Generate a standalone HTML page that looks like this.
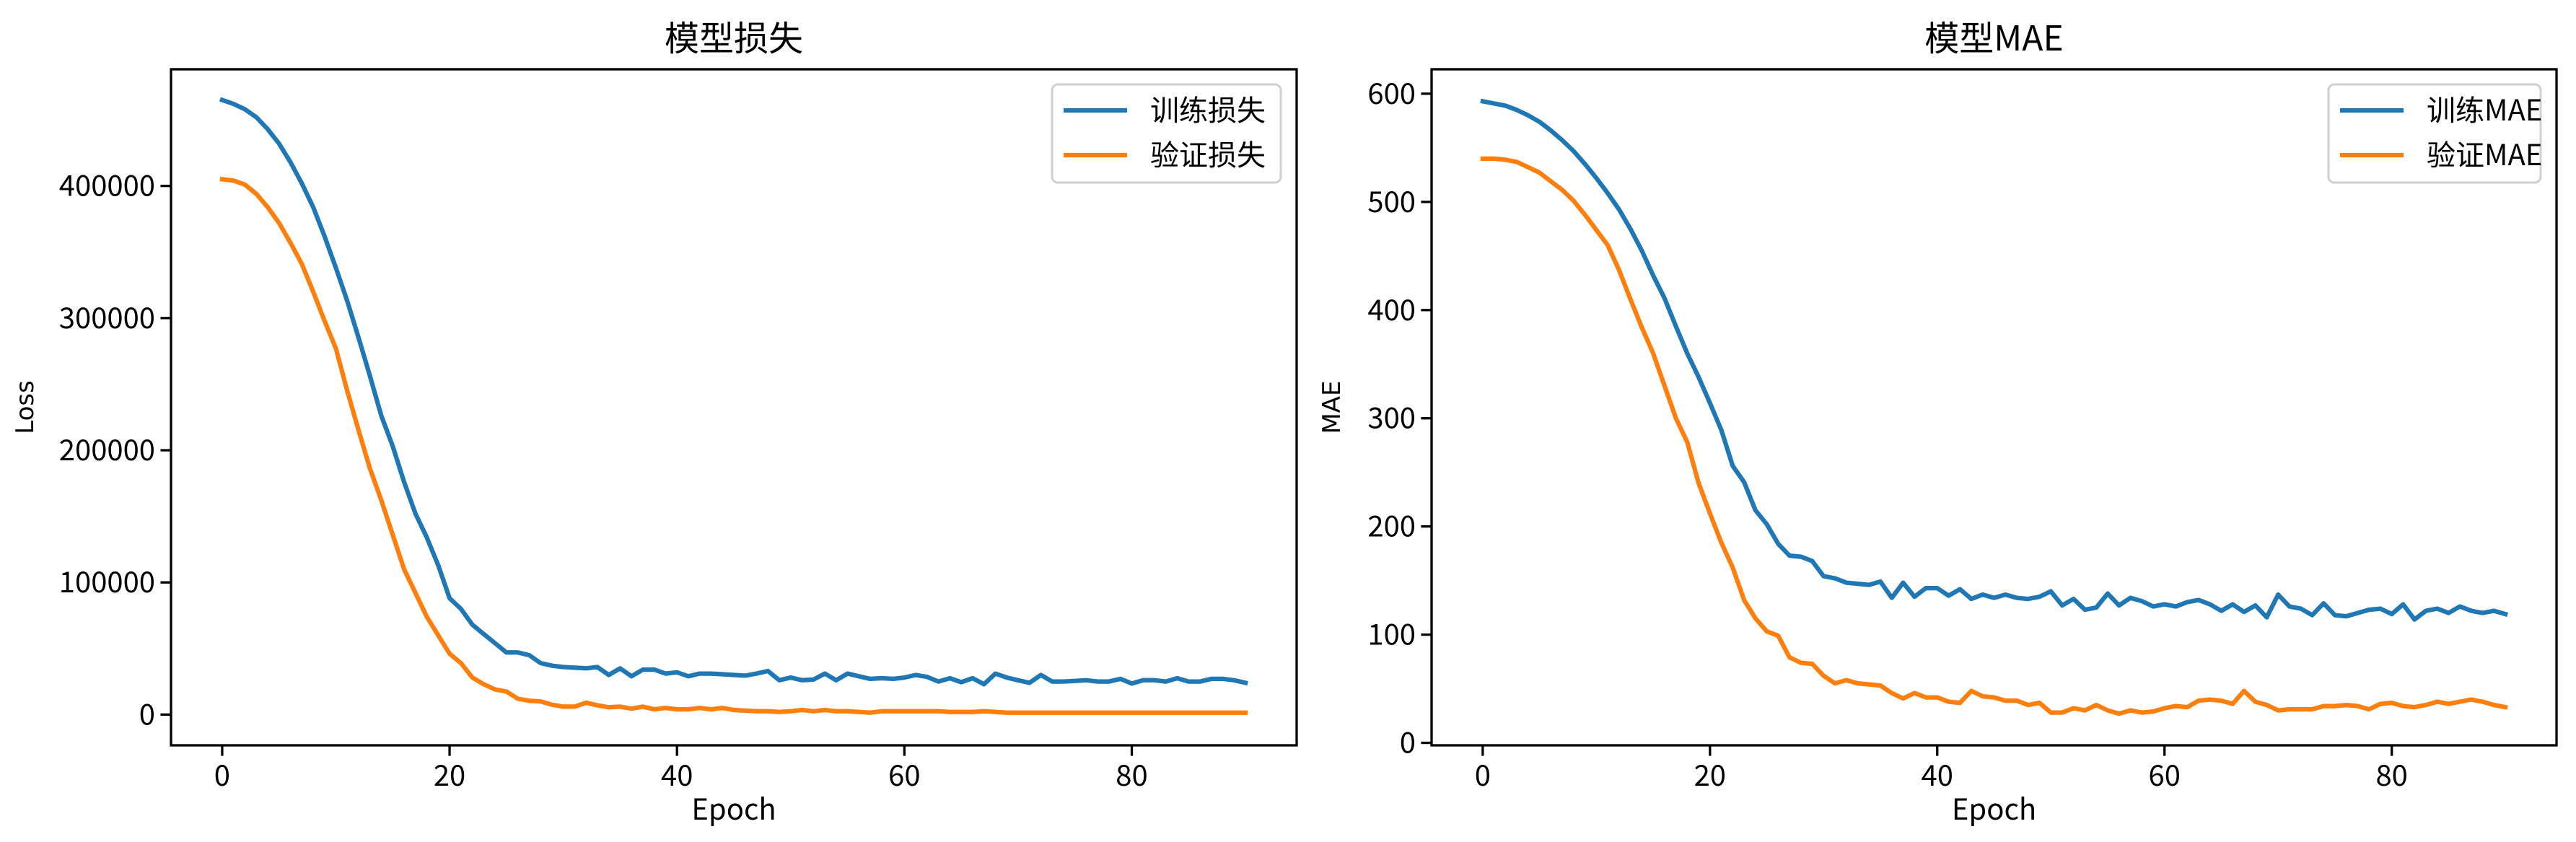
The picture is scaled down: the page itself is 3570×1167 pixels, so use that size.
<!DOCTYPE html>
<html><head><meta charset="utf-8">
<style>
html,body{margin:0;padding:0;background:#fff;}
svg{display:block;font-family:"DejaVu Sans","Liberation Sans",sans-serif;}
.tk{font-family:"WenQuanYi Zen Hei","Noto Sans CJK SC",sans-serif;font-size:40px;}
</style></head>
<body>
<svg id="fig" width="3570" height="1167" viewBox="0 0 3570 1167" xmlns="http://www.w3.org/2000/svg"></svg>
<script>
const epochs = Array.from({length:91},(_,i)=>i);
const trainLoss = [465,462,458,452,443,432,418,402,384,362,338,313,285,256,226,203,176,152,134,113,88,80,68,61,54,47,47,45,39,37,36,35.5,35,36,30,35,29,34,34,31,32,29,31,31,30.5,30,29.5,31,33,26,28,26,26.5,31,26,31,29,27,27.5,27,28,30,28.5,25,27.5,24.5,27.5,23,31,28,26,24,30,25,25,25.5,26,25,25,27,23.5,26,26,25,27.5,25,25,27,27,26,24].map(v=>v*1000);
const valLoss = [405,404,401,394,384,372,357,341,320,298,277,245,215,186,162,136,110,92,74,60,46,39,28,23,19,17.5,12,10.5,10,7.5,6,6,9,7,5.5,6,4.5,6,4,5,4,4,5,4,5,3.5,3,2.5,2.5,2,2.5,3.5,2.5,3.5,2.5,2.5,2,1.5,2.5,2.5,2.5,2.5,2.5,2.5,2,2,2,2.5,2,1.5,1.5,1.5,1.5,1.5,1.5,1.5,1.5,1.5,1.5,1.5,1.5,1.5,1.5,1.5,1.5,1.5,1.5,1.5,1.5,1.5,1.5].map(v=>v*1000);
const trainMAE = [593,591,589,585,580,574,566,557,547,535,522,508,493,475,455,432,411,385,360,338,314,289,256,241,215,202,184,173,172,168,154,152,148,147,146,149,134,148,135,143,143,136,142,133,137,134,137,134,133,135,140,127,133,123,125,138,127,134,131,126,128,126,130,132,128,122,128,121,127,116,137,126,124,118,129,118,117,120,123,124,119,128,114,122,124,120,126,122,120,122,119];
const valMAE = [540,540,539,537,532,527,519,511,501,488,474,460,437,410,384,360,330,300,278,240,212,185,162,132,115,103,99,79,74,73,62,55,58,55,54,53,46,41,46,42,42,38,37,48,43,42,39,39,35,37,28,28,32,30,35,30,27,30,28,29,32,34,33,39,40,39,36,48,38,35,30,31,31,31,34,34,35,34,31,36,37,34,33,35,38,36,38,40,38,35,33];
const xTicks = [0,20,40,60,80];
const lossTicks = [0,100000,200000,300000,400000];
const maeTicks = [0,100,200,300,400,500,600];

const NS="http://www.w3.org/2000/svg";
const svg=document.getElementById('fig');
function mk(tag,attrs,parent){const e=document.createElementNS(NS,tag);for(const k in attrs)e.setAttribute(k,attrs[k]);(parent||svg).appendChild(e);return e;}

function panel(cfg){
  const g=mk('g',{});
  
  
  const {L,R,T,B}=cfg;
  const xs=e=>L+(e-(-4.5))/(99)*(R-L);
  const ys=v=>B-(v-cfg.ymin)/(cfg.ymax-cfg.ymin)*(B-T);
  const colors=['#1f77b4','#ff7f0e'];
  cfg.series.forEach((s,si)=>{
    const d=s.map((v,i)=>(i?'L':'M')+xs(epochs[i]).toFixed(1)+' '+ys(v).toFixed(1)).join(' ');
    const p=mk('path',{d:d,fill:'none',stroke:colors[si],'stroke-width':6.25,'stroke-linejoin':'round','stroke-linecap':'square'},g);
    
    
  });
  const fr=mk('rect',{x:L,y:T,width:R-L,height:B-T,fill:'none',stroke:'#000','stroke-width':3.3},g);
  
  
  xTicks.forEach(t=>{
    const x=xs(t);
    mk('line',{x1:x,x2:x,y1:B,y2:B+14.6,stroke:'#000','stroke-width':3.3},g);
    const tx=mk('text',{x:x,y:B+56,'text-anchor':'middle',class:'tk'},g);
    tx.textContent=t;
    
    
  });
  cfg.yTicks.forEach(t=>{
    const y=ys(t);
    mk('line',{x1:L,x2:L-14.6,y1:y,y2:y,stroke:'#000','stroke-width':3.3},g);
    const tx=mk('text',{x:L-22,y:y+14,'text-anchor':'end',class:'tk'},g);
    tx.textContent=t;
    
    
  });
  const xl=mk('text',{x:(L+R)/2,y:1136,'text-anchor':'middle',class:'tk'},g);
  xl.textContent='Epoch';
  
  
  const yl=mk('text',{x:0,y:0,'text-anchor':'middle','font-size':34,transform:`translate(${cfg.ylx},${(T+B)/2}) rotate(-90)`},g);
  yl.textContent=cfg.ylabel;
  
  
  const ti=mk('text',{x:(L+R)/2,y:70,'text-anchor':'middle',class:'tk'},g);
  ti.setAttribute('style','font-size:48px');
  ti.textContent=cfg.title;
  
  
  const lg=mk('g',{},g);
  
  
  mk('rect',{x:cfg.lgx,y:117,width:cfg.lgw,height:136,rx:8,fill:'#fff','fill-opacity':0.8,stroke:'#d0d0d0','stroke-width':3},lg);
  cfg.seriesNames.forEach((n,i)=>{
    const y=[153,215][i];
    mk('line',{x1:cfg.lgx+16,x2:cfg.lgx+104,y1:y,y2:y,stroke:colors[i],'stroke-width':6.25},lg);
    const t=mk('text',{x:cfg.lgx+136,y:y+14,class:'tk'},lg);
    t.textContent=cfg.legendLabels[i];
    
    
  });
}
panel({name:'loss-chart',L:237,R:1797,T:96,B:1033,ymin:-23250,ymax:488250,series:[trainLoss,valLoss],
  seriesNames:['train-loss-line','val-loss-line'],legendLabels:['训练损失','验证损失'],yTicks:lossTicks,
  ylabel:'Loss',ylx:46,title:'模型损失',lgx:1458,lgw:317});
panel({name:'mae-chart',L:1984,R:3543,T:96,B:1033,ymin:-2.3,ymax:622.6,series:[trainMAE,valMAE],
  seriesNames:['train-mae-line','val-mae-line'],legendLabels:['训练MAE','验证MAE'],yTicks:maeTicks,
  ylabel:'MAE',ylx:1857,title:'模型MAE',lgx:3227,lgw:294});
</script>
</body></html>
